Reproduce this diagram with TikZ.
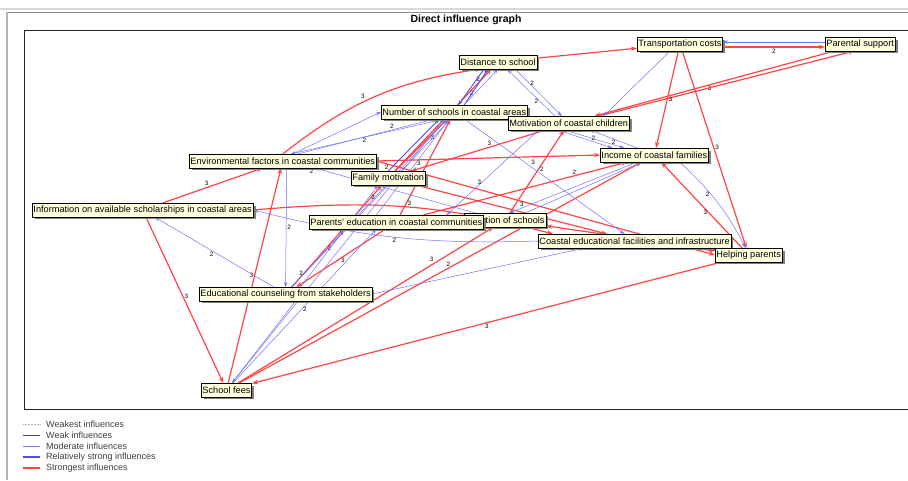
\documentclass[tikz,border=0pt]{standalone}
\usepackage{fontspec}
\setmainfont{Liberation Sans}
\usetikzlibrary{arrows.meta, positioning, shadows}
\definecolor{mcred}{RGB}{255,70,70}
\definecolor{mcblue}{RGB}{115,115,255}
\definecolor{mcdblue}{RGB}{75,75,255}
\definecolor{mccream}{RGB}{255,255,222}
\pgfdeclarelayer{back}
\pgfsetlayers{back,main}

\begin{document}
\begin{tikzpicture}[x=1pt, y=-1pt,
    var/.style={draw, line width=0.5pt, fill=mccream, inner xsep=1.2pt, inner ysep=0pt, minimum height=13.5pt,
      font=\fontsize{9.2}{10}\selectfont, drop shadow={shadow xshift=2.5pt, shadow yshift=-2.5pt, fill=black!50, opacity=1}},
    lab/.style={font=\fontsize{6.3}{7}\selectfont, inner sep=1pt},
    s3/.style={draw=mcred, line width=1.2pt, -{Stealth[length=6pt, width=4.5pt]}},
    s2/.style={draw=mcblue, line width=0.5pt, -{Stealth[length=5pt, width=3.5pt]}},
    s2b/.style={draw=mcdblue, line width=0.9pt, -{Stealth[length=5pt, width=3.5pt]}},
    legtxt/.style={font=\fontsize{9}{10}\selectfont, text=black!75, inner sep=0pt, anchor=west}
  ]
  \useasboundingbox (0,0) rectangle (908,480);

  \node[font=\bfseries\fontsize{10.5}{11}\selectfont] (title) at (466,20) {Direct influence graph};

  % variables
  \node[var, anchor=west] (dist) at (459,62) {Distance to school};
  \node[var, anchor=west] (trans) at (637,44) {Transportation costs};
  \node[var, anchor=west] (parsup) at (825,44) {Parental support};
  \node[var, anchor=west] (nsch) at (381,112) {Number of schools in coastal areas};
  \node[var, anchor=west] (motch) at (508,123) {Motivation of coastal children};
  \node[var, anchor=west] (income) at (600,155) {Income of coastal families};
  \node[var, anchor=west] (envf) at (189,161) {Environmental factors in coastal communities};
  \node[var, anchor=west] (fammot) at (351,178) {Family motivation};
  \node[var, anchor=west] (schinfo) at (32,210) {Information on available scholarships in coastal areas};
  \node[var, anchor=east] (loc) at (546,220) {Location of schools};
  \node[var, anchor=west] (pared) at (309,222) {Parents' education in coastal communities};
  \node[var, anchor=west] (facil) at (538,241) {Coastal educational facilities and infrastructure};
  \node[var, anchor=west] (helpp) at (715,255) {Helping parents};
  \node[var, anchor=west] (couns) at (199,294) {Educational counseling from stakeholders};
  \node[var, anchor=west] (fees) at (201,390) {School fees};

  \begin{pgfonlayer}{back}
    \fill[white] (0,0) rectangle (908,480);
    \draw[black!15, line width=1.2pt] (0,9) -- (908,9);
    \draw[black!45, line width=1pt] (7,12) -- (908,12);
    \draw[black!30, line width=1.5pt] (7,12) -- (7,480);
    \draw[line width=0.7pt, black!85] (24,30) rectangle (912,409);

    % strongest influences
    \draw[s3] (dist) -- (trans);
    \draw[s3] ([yshift=-3]trans.east) -- node[lab, below]{2} ([yshift=-3]parsup.west);
    \draw[s3] (parsup) -- node[lab, below, pos=.52]{3} (motch);
    \draw[s3] ([xshift=30]motch.north) -- ([xshift=-6]parsup.south);
    \draw[s3] (trans) -- node[lab, right, pos=.5]{3} (income);
    \draw[s3] (trans) -- node[lab, right, pos=.49]{3} (helpp);
    \draw[s3] (helpp) -- node[lab, left, pos=.41]{3} (income);
    \draw[s3] (envf.east) -- node[lab, below, pos=.19]{3} (income.west);
    \draw[s3] (envf.north) to[bend left=15] node[lab, above left, pos=.45]{3} ([xshift=22]dist.south west);
    \draw[s3] (fammot) -- node[lab, right, pos=.76]{2} (dist);
    \draw[s3] (fammot) -- node[lab, right, pos=.65]{3} (nsch);
    \draw[s3] (motch) -- node[lab, above, pos=.42]{3} (fammot);
    \draw[s3] (loc) -- node[lab, right, pos=.53]{2} (motch);
    \draw[s3] (fees) -- node[lab, above left, pos=.77]{3} (loc);
    \draw[s3] (fees) -- node[lab, above, pos=.52]{2} (income);
    \draw[s3] (pared) -- node[lab, above, pos=.74]{2} (income);
    \draw[s3] (schinfo) -- node[lab, right, pos=.48]{3} (fees);
    \draw[s3] (fees) -- node[lab, left, pos=.5]{3} (envf);
    \draw[s3] (schinfo) -- node[lab, above, pos=.44]{3} (envf);
    \draw[s3] (couns) -- node[lab, right, pos=.38]{2} (fammot);
    \draw[s3] (pared) -- node[lab, below, pos=.48]{3} (couns);
    \draw[s3] (pared) -- node[lab, right, pos=.12]{3} (nsch);
    \draw[s3] (fammot) -- (facil);
    \draw[s3] (envf.east) -- node[lab, below, pos=.03]{2} (helpp.west);
    \draw[s3] (schinfo.east) to[out=5, in=165] ([xshift=15]facil.north west);
    \draw[s3] (helpp) -- (loc);
    \draw[s3] (facil) -- (helpp);
    \draw[s3] (helpp) -- node[lab, below, pos=.5]{3} (fees);

    % moderate and relatively strong influences
    \draw[s2] ([yshift=2]parsup.west) -- ([yshift=2]trans.east);
    \draw[s2] ([xshift=17]dist.south) -- node[lab, right, pos=.3]{2} ([xshift=-7]motch.north);
    \draw[s2] ([xshift=-14]motch.north) -- node[lab, left, pos=.32]{2} ([xshift=9]dist.south);
    \draw[s2b] ([xshift=10]nsch.north) -- node[lab, left, pos=.72]{2} ([xshift=-10]dist.south);
    \draw[s2b] ([xshift=-14]dist.south) -- ([xshift=4]nsch.north);
    \draw[s2] ([xshift=15]envf.north) -- node[lab, above, pos=.69]{2} ([xshift=-20]nsch.south);
    \draw[s2] ([xshift=-10]nsch.south) -- node[lab, below, pos=.52]{2} ([xshift=8]envf.north);
    \draw[s2] ([xshift=10]envf.north) -- (nsch.west);
    \draw[s2] ([xshift=-11]motch.south) -- node[lab, above, pos=.65]{2} ([xshift=-42]income.north);
    \draw[s2] ([xshift=-17]income.north) -- node[lab, below, pos=.5]{2} ([xshift=21]motch.south);
    \draw[s2] (nsch.south east) -- ([xshift=-30]income.north);
    \draw[s2] ([xshift=25]income.south) to[bend left=10] node[lab, left, pos=.4]{2} ([xshift=-3]helpp.north);
    \draw[s2] ([xshift=-10]trans.south) -- ([xshift=35]motch.north);
    \draw[s2] ([xshift=-17]income.south) -- node[lab, above, pos=.9]{3} ([xshift=4]loc.north);
    \draw[s2] ([xshift=20]loc.north) -- ([xshift=-12]income.south);
    \draw[s2] ([xshift=10]nsch.south) -- node[lab, above right, pos=.41]{3} ([xshift=-10]facil.north);
    \draw[s2] ([xshift=-30]motch.south) -- node[lab, left, pos=.61]{3} ([xshift=50]pared.north);
    \draw[s2] ([xshift=4]envf.south) -- node[lab, right, pos=.5]{2} (couns.north);
    \draw[s2] ([xshift=-30]loc.north) -- node[lab, below left, pos=1]{2} ([xshift=32]envf.south);
    \draw[s2] (couns) -- node[lab, below, pos=.52]{2} (schinfo);
    \draw[s2] (facil.west) to[bend left=8] node[lab, below, pos=.5]{2} node[lab, below, pos=.7]{3} (schinfo.east);
    \draw[s2] (couns.east) -- ([xshift=-50]facil.south);
    \draw[s2] (fees) -- node[lab, right, pos=.48]{2} ([xshift=-20]pared.south);
    \draw[s2] ([xshift=10]couns.south) -- (fees);
    \draw[s2] (fees) -- ([xshift=-10]nsch.south);
    \draw[s2] ([xshift=6]couns.north) -- node[lab, left, pos=.08]{2} ([xshift=-7]nsch.south);
    \draw[s2] ([xshift=6]couns.north) -- node[lab, left, pos=.41]{2} (dist.south);
    \draw[s2b] (fammot.north) -- ([xshift=-15]nsch.south);
    \draw[s2] ([xshift=-20]pared.north) -- ([xshift=-5]nsch.south);
    \draw[s2] ([xshift=15]couns.north) -- ([xshift=-10]fammot.south);
  \end{pgfonlayer}

  % legend
  \node[legtxt] (lg1) at (46,424) {Weakest influences};
  \node[legtxt] (lg2) at (46,435) {Weak influences};
  \node[legtxt] (lg3) at (46,446) {Moderate influences};
  \node[legtxt] (lg4) at (46,457) {Relatively strong influences};
  \node[legtxt] (lg5) at (46,468) {Strongest influences};
  \draw[black!30, densely dotted, line width=0.5pt] ([xshift=-23]lg1.west) -- ([xshift=-6]lg1.west);
  \draw[black!70, line width=0.5pt] ([xshift=-23]lg2.west) -- ([xshift=-6]lg2.west);
  \draw[mcblue, line width=0.6pt] ([xshift=-23]lg3.west) -- ([xshift=-6]lg3.west);
  \draw[mcdblue, line width=1.2pt] ([xshift=-23]lg4.west) -- ([xshift=-6]lg4.west);
  \draw[mcred, line width=1.2pt] ([xshift=-23]lg5.west) -- ([xshift=-6]lg5.west);
\end{tikzpicture}
\end{document}
